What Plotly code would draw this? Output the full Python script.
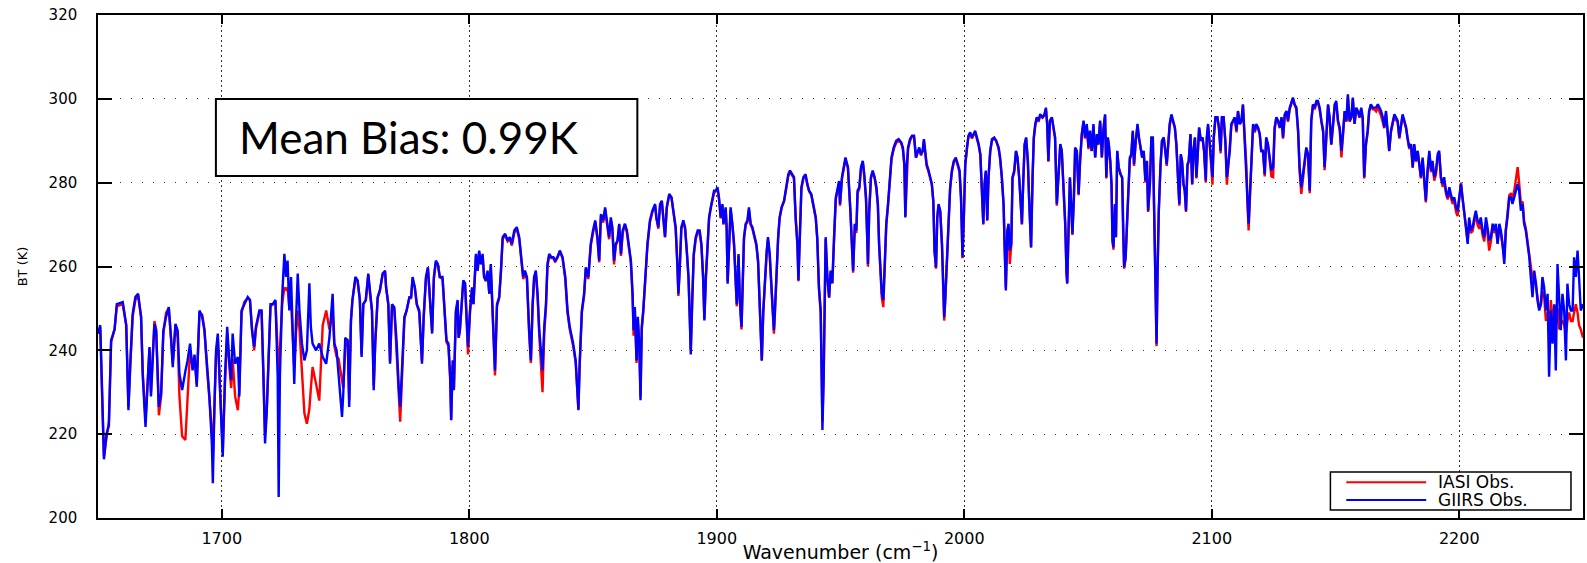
import plotly.graph_objects as go

# ---------------- data (wavenumber cm-1, BT K) ----------------
giirs_1650_1738 = [
    (1650.0,244.0),(1650.9,246.0),(1651.7,229.7),(1652.4,214.0),(1653.4,220.0),(1654.4,222.0),(1655.3,242.4),(1656.7,245.0),
    (1657.6,251.0),(1660.0,251.5),(1661.4,246.0),(1662.3,225.7),(1663.1,237.6),(1664.0,248.7),(1665.1,252.7),(1666.2,253.5),
    (1667.4,248.0),(1668.1,233.7),(1669.2,221.7),(1670.1,233.0),(1670.8,240.8),(1671.4,229.0),(1672.1,237.6),(1672.8,246.3),
    (1673.5,244.7),(1674.6,226.5),(1675.5,229.7),(1676.4,244.7),(1677.5,248.0),(1678.6,250.3),(1679.5,243.0),(1680.2,236.0),
    (1681.3,246.3),(1682.2,244.7),(1682.9,234.4),(1684.0,230.5),(1685.3,235.0),(1686.2,237.6),(1687.2,241.6),(1688.2,235.2),
    (1689.0,239.0),(1689.9,231.3),(1691.0,249.5),(1692.1,248.0),(1693.0,244.8),(1694.0,236.8),(1695.0,229.0),(1696.0,217.8),
    (1696.4,208.3),(1697.0,225.7),(1697.7,240.0),(1698.4,244.0),(1699.3,229.7),(1700.4,214.6),(1701.3,233.7),(1702.2,245.6),
    (1703.1,236.8),(1703.8,232.9),(1704.4,244.0),(1705.4,236.8),(1706.5,238.4),(1707.1,229.0),(1708.0,249.5),(1709.1,251.0),
    (1710.5,252.7),(1711.4,252.0),(1712.2,244.8),(1713.1,240.8),(1713.8,245.6),(1715.2,249.5),(1716.1,249.5),(1716.8,235.2),
    (1717.5,217.8),(1718.2,225.7),(1719.0,241.6),(1719.7,251.0),(1720.6,251.0),(1721.7,252.0),(1722.6,233.7),(1723.0,205.0),
    (1723.5,233.7),(1724.4,252.7),(1725.3,263.0),(1726.0,257.5),(1726.6,261.4),(1727.3,249.5),(1728.0,257.5),(1728.7,241.6),
    (1729.3,232.0),(1730.0,247.0),(1730.7,258.3),(1731.4,249.5),(1732.4,241.6),(1733.4,237.6),(1734.4,240.0),(1735.4,256.0),
    (1736.0,245.6),(1736.7,241.6),(1738.1,240.0),
]
giirs_1739_1848 = [
    (1739.4,241.6),(1740.8,238.4),(1742.2,236.8),(1743.5,243.0),(1744.8,253.5),(1745.5,241.6),(1746.4,240.0),(1747.2,233.7),
    (1747.7,231.3),(1748.6,224.1),(1749.1,229.7),(1749.9,243.0),(1750.9,242.4),(1751.5,226.5),(1752.2,247.1),(1752.8,252.0),
    (1754.0,257.5),(1754.9,256.7),(1755.8,252.0),(1756.5,238.4),(1757.2,251.0),(1758.2,252.0),(1759.2,258.3),(1759.8,254.3),
    (1760.7,249.5),(1761.4,230.5),(1762.0,241.6),(1763.0,252.7),(1763.9,254.3),(1765.0,258.3),(1766.0,259.0),(1766.4,255.0),
    (1767.3,251.0),(1768.0,236.8),(1768.8,251.0),(1769.7,250.3),(1770.7,241.6),(1771.5,231.3),(1772.1,226.5),(1772.8,235.2),
    (1773.8,248.0),(1774.7,249.5),(1775.8,252.7),(1776.5,252.7),(1777.1,257.5),(1778.0,255.0),(1778.8,251.0),(1779.8,249.5),
    (1780.5,243.0),(1780.9,236.8),(1781.6,248.0),(1782.5,257.5),(1783.3,259.8),(1784.1,252.0),(1785.0,244.0),(1785.7,257.5),
    (1786.5,261.4),(1787.3,260.6),(1788.1,257.5),(1789.2,257.5),(1790.0,249.5),(1790.8,242.4),(1791.6,241.6),(1792.3,233.7),
    (1792.7,223.3),(1793.3,237.6),(1793.8,230.5),(1794.6,249.5),(1795.3,252.0),(1795.7,243.0),(1796.2,244.8),(1797.0,252.7),
    (1797.6,256.7),(1798.3,256.0),(1798.9,249.5),(1799.5,240.8),(1800.3,249.5),(1801.1,255.0),(1801.7,251.0),(1802.7,263.0),
    (1803.4,259.0),(1804.0,263.8),(1804.7,260.6),(1805.4,263.0),(1806.0,257.5),(1806.7,256.7),(1807.4,259.0),(1808.1,253.5),
    (1808.7,260.6),(1809.4,251.0),(1810.4,235.2),(1811.2,251.0),(1812.1,252.7),(1812.8,259.0),(1813.5,267.0),(1814.5,267.8),
    (1815.5,266.2),(1816.4,267.0),(1817.2,265.4),(1818.2,268.6),(1819.2,269.4),(1820.2,267.0),(1821.1,260.6),(1821.8,257.5),
    (1822.5,259.0),(1823.3,257.5),(1824.2,244.8),(1824.9,237.6),(1825.6,251.0),(1826.2,257.5),(1826.9,259.0),(1827.6,253.5),
    (1828.3,244.8),(1829.0,239.0),(1829.6,235.2),(1830.3,245.6),(1831.0,251.0),(1831.6,260.6),(1832.3,263.0),(1833.2,262.2),
    (1834.0,262.2),(1834.7,261.4),(1835.6,262.2),(1836.6,263.8),(1837.7,262.2),(1838.8,257.5),(1839.7,249.5),(1840.6,245.6),
    (1842.0,241.6),(1843.0,237.6),(1844.1,225.7),(1844.6,236.8),(1845.5,249.5),(1846.4,253.5),(1847.1,259.8),(1848.1,257.5),
]
giirs_1849_1953 = [
    (1849.1,265.4),(1850.0,268.6),(1850.9,271.0),(1851.8,267.0),(1852.5,261.4),(1853.2,272.5),(1854.1,271.0),(1854.9,274.1),
    (1855.8,270.2),(1856.5,267.0),(1857.2,271.7),(1857.8,269.4),(1858.5,261.4),(1859.2,265.4),(1859.9,266.2),(1860.6,270.2),
    (1861.3,263.0),(1862.0,268.6),(1862.9,270.2),(1863.7,268.6),(1864.6,264.6),(1865.3,261.4),(1866.0,253.5),(1866.4,244.8),
    (1866.9,250.3),(1867.6,237.6),(1868.1,248.0),(1868.7,241.6),(1869.2,228.1),(1869.7,245.6),(1870.3,249.5),(1871.1,256.7),
    (1872.0,265.4),(1873.0,271.0),(1874.0,273.3),(1875.1,274.9),(1875.6,271.7),(1876.4,269.4),(1877.1,274.9),(1877.8,275.7),
    (1878.5,270.2),(1879.1,267.0),(1879.8,274.1),(1880.8,277.3),(1881.7,276.5),(1882.5,273.3),(1883.4,269.4),(1884.1,260.6),
    (1884.5,253.5),(1885.0,259.0),(1885.7,269.4),(1886.5,271.0),(1887.2,269.4),(1887.9,263.8),(1888.6,257.5),(1889.1,248.0),
    (1889.5,239.0),(1890.1,252.0),(1890.7,263.0),(1891.5,267.0),(1892.3,268.6),(1893.1,268.6),(1893.8,265.4),(1894.5,257.5),
    (1895.0,247.1),(1895.6,257.5),(1896.2,265.4),(1896.9,271.7),(1897.6,274.1),(1898.3,276.5),(1898.9,278.1),(1899.6,278.1),
    (1900.3,278.9),(1900.9,276.5),(1901.6,271.7),(1902.3,274.9),(1902.7,270.2),(1903.6,274.1),(1904.0,269.4),(1904.4,255.9),
    (1905.0,265.4),(1905.6,274.1),(1906.3,270.2),(1907.0,265.4),(1907.7,256.0),(1908.1,251.0),(1908.8,263.0),(1909.3,252.7),
    (1910.0,245.6),(1910.4,254.3),(1911.0,267.0),(1911.7,270.2),(1912.4,271.0),(1913.0,274.1),(1913.7,270.2),(1914.4,269.4),
    (1915.3,267.0),(1916.0,265.4),(1916.7,261.4),(1917.4,251.0),(1917.9,244.8),(1918.2,237.6),(1918.8,249.5),(1919.5,257.5),
    (1920.2,263.8),(1920.7,267.0),(1921.4,263.0),(1921.9,257.5),(1922.5,249.5),(1923.1,244.8),(1923.4,248.0),(1924.1,259.0),
    (1924.8,267.0),(1925.4,271.7),(1926.2,274.1),(1927.2,275.7),(1928.1,278.9),(1928.9,282.0),(1929.6,282.9),(1930.6,282.0),
    (1931.2,281.3),(1931.9,271.7),(1932.6,265.4),(1933.0,256.7),(1933.5,268.6),(1934.2,278.9),(1935.0,281.3),(1935.9,282.0),
    (1936.6,279.7),(1937.3,278.1),(1938.2,277.3),(1939.0,274.9),(1940.0,271.7),(1940.6,267.0),(1941.3,255.0),(1942.0,249.5),
    (1942.4,236.8),(1942.7,221.0),(1943.2,233.7),(1943.6,257.5),(1944.0,267.0),(1944.7,257.5),(1945.4,252.7),(1946.0,259.0),
    (1946.7,256.0),(1947.4,267.0),(1948.1,276.5),(1948.7,278.1),(1949.4,280.4),(1949.8,274.9),(1950.6,281.3),(1952.0,286.0),
    (1953.0,283.7),
]
giirs_1954_2058 = [
    (1954.0,273.3),(1954.7,261.4),(1955.1,259.0),(1955.8,270.2),(1956.4,268.6),(1956.9,278.1),(1957.6,278.9),(1958.3,283.7),
    (1959.0,285.2),(1959.6,282.0),(1960.3,276.5),(1960.8,267.0),(1961.1,260.6),(1961.6,273.3),(1962.3,281.3),(1963.0,282.9),
    (1963.8,281.3),(1964.5,278.9),(1965.1,274.9),(1965.6,265.4),(1966.2,257.5),(1966.7,253.5),(1967.3,252.0),(1967.8,260.6),
    (1968.5,270.2),(1969.2,274.9),(1969.9,281.3),(1970.6,286.0),(1971.5,288.4),(1972.5,290.0),(1973.5,290.4),(1974.5,289.6),
    (1975.2,288.4),(1975.8,284.4),(1976.2,271.7),(1976.8,284.4),(1977.3,288.4),(1978.1,290.4),(1978.9,291.2),(1979.7,291.2),
    (1980.5,286.0),(1981.2,287.6),(1981.8,288.4),(1982.5,286.8),(1983.2,287.6),(1983.7,290.4),(1984.3,286.0),(1984.8,284.4),
    (1985.6,282.9),(1986.3,281.3),(1986.9,279.7),(1987.5,275.7),(1988.0,263.8),(1988.6,259.8),(1989.1,271.7),(1989.6,274.9),
    (1990.3,273.3),(1991.0,265.4),(1991.5,252.7),(1991.9,247.9),(1992.3,252.0),(1993.0,263.8),(1993.7,271.0),(1994.3,278.9),
    (1995.0,282.9),(1995.8,285.2),(1996.6,286.0),(1997.4,284.4),(1998.1,282.9),(1998.7,276.5),(1999.1,267.0),(1999.3,262.2),
    (1999.9,273.3),(2000.4,284.4),(2001.1,288.4),(2001.7,291.2),(2002.4,292.0),(2003.1,290.8),(2003.8,291.6),(2004.4,292.4),
    (2005.1,290.8),(2005.8,289.2),(2006.5,286.8),(2007.1,277.3),(2007.7,270.2),(2008.2,279.7),(2008.7,282.9),(2009.3,271.0),
    (2009.8,281.3),(2010.5,287.6),(2011.2,290.4),(2012.1,290.8),(2012.9,290.0),(2013.9,288.4),(2014.5,286.0),(2015.2,281.3),
    (2015.9,274.9),(2016.3,265.4),(2016.8,254.3),(2017.4,268.6),(2017.9,270.2),(2018.4,263.8),(2019.0,265.4),(2019.5,281.3),
    (2020.2,282.9),(2020.9,287.6),(2021.5,286.0),(2022.2,281.3),(2022.7,276.5),(2023.3,270.2),(2023.8,279.7),(2024.4,289.2),
    (2025.0,290.8),(2025.7,285.2),(2026.2,276.5),(2026.8,265.4),(2027.0,264.6),(2027.6,281.3),(2028.1,290.8),(2028.7,294.0),
    (2029.3,295.6),(2030.0,294.8),(2030.7,296.3),(2031.6,295.6),(2032.4,296.3),(2033.0,297.9),(2033.5,294.0),(2034.0,285.2),
    (2034.6,294.8),(2035.4,295.6),(2036.1,293.2),(2036.7,290.8),(2037.4,274.9),(2038.1,281.3),(2038.8,289.2),(2039.4,287.6),
    (2040.1,279.7),(2040.8,270.2),(2041.3,259.0),(2041.6,255.9),(2042.2,270.2),(2042.7,281.3),(2043.2,274.9),(2043.7,267.8),
    (2044.3,276.5),(2044.8,288.4),(2045.5,287.6),(2046.2,277.3),(2046.8,285.2),(2047.5,291.6),(2048.2,294.8),(2048.8,290.8),
    (2049.5,294.0),(2050.2,288.4),(2050.8,292.4),(2051.5,287.6),(2052.2,294.0),(2052.9,286.0),(2053.6,291.6),(2054.2,289.2),
    (2054.9,294.8),(2055.6,286.0),(2056.3,293.2),(2056.9,296.3),(2057.4,281.3),(2058.0,290.8),
]
giirs_2058_2163 = [
    (2058.4,289.2),(2059.0,285.2),(2059.5,279.7),(2059.9,266.2),(2060.3,264.6),(2060.9,274.9),(2061.3,267.0),(2061.8,287.6),
    (2062.4,283.7),(2063.1,282.0),(2063.8,281.3),(2064.2,268.6),(2064.6,259.8),(2065.2,262.2),(2065.7,271.0),(2066.2,276.5),
    (2066.9,286.0),(2067.5,286.8),(2068.1,292.4),(2068.6,284.4),(2069.3,290.0),(2070.0,294.0),(2070.6,290.8),(2071.2,288.4),
    (2071.9,286.0),(2072.5,287.6),(2073.2,280.5),(2073.8,285.2),(2074.3,273.3),(2075.0,279.7),(2075.6,290.8),(2076.2,290.8),
    (2076.6,276.5),(2077.0,261.4),(2077.3,246.3),(2077.7,241.6),(2078.1,259.0),(2078.6,273.3),(2079.3,284.4),(2079.9,290.0),
    (2080.6,290.8),(2081.3,287.6),(2081.8,284.4),(2082.4,289.2),(2083.0,294.0),(2083.7,296.3),(2084.4,294.8),(2085.1,293.2),
    (2085.7,289.2),(2086.4,282.0),(2086.9,274.9),(2087.5,286.8),(2088.0,285.2),(2088.6,279.7),(2089.1,278.1),(2089.6,273.3),
    (2090.2,284.4),(2090.7,285.2),(2091.4,291.6),(2092.1,279.7),(2092.6,287.6),(2093.2,290.8),(2093.8,281.3),(2094.4,287.6),
    (2094.9,293.2),(2095.6,290.0),(2096.3,290.8),(2096.9,287.6),(2097.6,280.5),(2098.0,290.8),(2098.5,294.0),(2099.2,289.2),
    (2099.9,282.9),(2100.3,281.3),(2100.8,290.8),(2101.5,295.6),(2102.3,295.6),(2102.9,293.2),(2103.6,287.6),(2104.1,295.6),
    (2104.8,295.6),(2105.5,290.0),(2106.1,281.3),(2106.6,283.7),(2107.3,287.6),(2107.9,294.0),(2108.6,294.8),(2109.3,295.6),
    (2110.0,292.4),(2110.6,297.1),(2111.3,294.0),(2112.0,294.8),(2112.6,298.7),(2113.3,290.8),(2114.0,284.4),(2114.4,276.5),
    (2114.9,270.2),(2115.5,278.1),(2116.0,284.4),(2116.7,294.0),(2117.4,292.4),(2118.0,294.0),(2118.7,293.2),(2119.4,291.6),
    (2120.0,287.6),(2120.7,287.6),(2121.4,282.0),(2122.0,290.8),(2122.7,289.2),(2123.4,286.0),(2124.1,282.9),(2124.8,283.7),
    (2125.4,293.2),(2126.1,295.6),(2126.8,294.8),(2127.5,293.2),(2128.2,295.6),(2128.8,290.8),(2129.5,296.3),(2130.2,297.1),
    (2130.8,294.8),(2131.5,297.9),(2132.2,299.5),(2132.8,300.3),(2133.5,298.7),(2134.2,297.9),(2134.9,292.4),(2135.5,283.7),
    (2136.2,278.9),(2136.9,282.0),(2137.6,284.4),(2138.2,288.4),(2138.9,286.8),(2139.6,278.1),(2140.2,294.8),(2140.9,298.7),
    (2141.6,297.9),(2142.3,299.5),(2142.9,299.5),(2143.6,297.9),(2144.3,294.8),(2145.0,292.4),(2145.6,283.7),(2146.3,292.4),
    (2147.0,298.7),(2147.6,295.6),(2148.3,289.2),(2149.0,294.0),(2149.7,298.7),(2150.3,299.5),(2151.0,294.8),(2151.7,293.2),
    (2152.4,287.6),(2153.0,291.6),(2153.7,297.1),(2154.4,294.8),(2155.0,301.1),(2155.7,294.8),(2156.4,295.6),(2157.0,300.3),
    (2157.7,294.0),(2158.4,297.9),(2159.0,297.1),(2159.7,295.6),(2160.4,297.9),(2161.0,295.6),(2161.6,281.3),(2162.3,289.2),
    (2163.0,292.4),
]
giirs_2163_2250 = [
    (2163.6,297.1),(2164.3,298.7),(2165.0,297.9),(2165.7,297.9),(2166.4,297.9),(2167.1,298.7),(2167.7,297.9),(2168.4,297.1),
    (2169.1,295.6),(2169.7,293.2),(2170.4,297.1),(2171.1,290.8),(2171.7,287.6),(2172.4,292.4),(2173.1,294.8),(2173.8,296.3),
    (2174.4,295.6),(2175.1,294.8),(2175.8,290.8),(2176.4,293.2),(2177.1,296.3),(2177.8,294.8),(2178.5,293.2),(2179.1,290.8),
    (2179.8,288.4),(2180.5,289.2),(2181.2,283.7),(2181.8,289.2),(2182.5,285.2),(2183.2,287.6),(2183.9,283.7),(2184.5,281.3),
    (2185.2,286.0),(2185.9,281.3),(2186.5,275.7),(2187.2,282.9),(2187.9,287.6),(2188.6,282.9),(2189.2,285.2),(2189.9,281.3),
    (2190.6,282.9),(2191.3,286.8),(2191.9,287.6),(2192.6,281.3),(2193.3,279.7),(2193.9,281.3),(2194.6,278.1),(2195.3,276.5),
    (2196.0,278.9),(2196.6,277.3),(2197.3,275.7),(2198.0,276.5),(2198.7,274.1),(2199.3,273.3),(2200.0,276.5),(2200.7,279.7),
    (2201.3,276.5),(2202.0,273.3),(2202.7,269.4),(2203.4,265.4),(2204.0,271.7),(2204.7,268.6),(2205.4,269.4),(2206.1,271.7),
    (2206.7,273.3),(2207.4,271.0),(2208.1,270.2),(2208.7,271.7),(2209.4,268.6),(2210.1,267.0),(2210.8,271.7),(2211.4,269.4),
    (2212.1,266.2),(2212.8,267.0),(2213.5,270.2),(2214.1,268.6),(2214.8,270.2),(2215.5,265.4),(2216.2,270.2),(2216.8,268.6),
    (2217.5,265.4),(2218.2,260.6),(2218.8,268.6),(2219.5,271.7),(2220.2,276.5),(2220.9,276.5),(2221.5,274.9),(2222.2,276.5),
    (2222.9,278.1),(2223.6,279.7),(2224.2,278.1),(2224.9,273.3),(2225.6,274.9),(2226.2,270.2),(2226.9,268.6),(2227.6,265.4),
    (2228.3,262.2),(2228.9,257.5),(2229.6,252.7),(2230.3,259.0),(2231.0,256.0),(2231.6,252.0),(2232.3,249.5),(2233.0,251.0),
    (2233.6,257.5),(2234.3,255.0),(2235.0,249.5),(2235.7,253.5),(2236.3,233.7),(2237.0,249.5),(2237.7,241.6),(2238.4,251.0),
    (2239.0,235.2),(2239.7,260.6),(2240.4,251.0),(2241.0,244.8),(2241.7,253.5),(2242.4,249.5),(2243.1,237.6),(2243.7,255.9),
    (2244.4,251.0),(2245.1,249.5),(2245.8,249.5),(2246.4,262.2),(2247.1,257.5),(2247.8,263.8),(2248.4,257.5),(2249.1,249.5),
    (2250.0,251.0),
]

iasi_1650_1738 = [
    (1650.0,244.0),(1650.9,245.5),(1651.7,228.0),(1652.4,214.6),(1653.4,219.0),(1654.4,223.0),(1655.3,242.0),(1656.7,245.0),
    (1657.6,250.5),(1660.0,251.0),(1661.4,246.0),(1662.3,226.5),(1663.1,237.0),(1664.0,248.0),(1665.1,252.0),(1666.2,253.0),
    (1667.4,248.0),(1668.1,234.5),(1669.2,223.5),(1670.1,233.0),(1670.8,240.5),(1671.4,230.0),(1672.1,238.0),(1672.8,247.0),
    (1673.5,245.0),(1674.6,224.5),(1675.5,229.0),(1676.4,244.0),(1677.5,249.0),(1678.6,250.0),(1679.5,243.0),(1680.2,237.0),
    (1681.3,246.0),(1682.2,243.0),(1682.9,229.0),(1684.0,219.5),(1685.3,218.6),(1686.2,228.0),(1687.2,240.0),(1688.2,236.0),
    (1689.0,238.5),(1689.9,232.0),(1691.0,249.0),(1692.1,248.5),(1693.0,245.0),(1694.0,236.0),(1695.0,228.0),(1696.0,221.0),
    (1696.4,214.0),(1697.0,224.0),(1697.7,239.0),(1698.4,243.0),(1699.3,230.0),(1700.4,216.0),(1701.3,232.0),(1702.2,244.0),
    (1703.1,236.0),(1703.8,231.0),(1704.4,238.0),(1705.4,229.0),(1706.5,225.7),(1707.1,231.0),(1708.0,249.0),(1709.1,251.5),
    (1710.5,252.5),(1711.4,252.0),(1712.2,245.5),(1713.1,240.0),(1713.8,245.0),(1715.2,249.0),(1716.1,249.0),(1716.8,236.0),
    (1717.5,220.0),(1718.2,226.0),(1719.0,241.0),(1719.7,250.5),(1720.6,251.0),(1721.7,251.5),(1722.6,240.0),(1723.0,231.0),
    (1723.5,240.0),(1724.4,251.0),(1725.3,255.0),(1726.0,254.5),(1726.6,255.0),(1727.3,250.0),(1728.0,251.5),(1728.7,243.0),
    (1729.3,236.0),(1730.0,244.0),(1730.7,249.5),(1731.4,245.0),(1732.4,234.0),(1733.4,225.0),(1734.4,222.5),(1735.4,226.0),
    (1736.0,231.0),(1736.7,236.0),(1738.1,232.0),
]
iasi_1739_1848 = [
    (1739.4,228.0),(1740.8,246.0),(1742.2,249.5),(1743.5,245.0),(1744.8,249.0),(1745.5,241.0),(1746.4,238.5),(1747.2,238.0),
    (1747.7,236.0),(1748.6,233.0),(1749.1,231.0),(1749.9,241.0),(1750.9,242.0),(1751.5,228.0),(1752.2,247.0),(1752.8,252.0),
    (1754.0,257.0),(1754.9,256.5),(1755.8,252.0),(1756.5,239.0),(1757.2,251.0),(1758.2,252.0),(1759.2,258.0),(1759.8,254.0),
    (1760.7,249.5),(1761.4,231.5),(1762.0,241.6),(1763.0,252.5),(1763.9,254.3),(1765.0,258.0),(1766.0,258.5),(1766.4,255.0),
    (1767.3,251.0),(1768.0,237.5),(1768.8,250.5),(1769.7,250.0),(1770.7,240.0),(1771.5,229.0),(1772.1,223.0),(1772.8,233.0),
    (1773.8,247.5),(1774.7,249.5),(1775.8,252.5),(1776.5,252.5),(1777.1,257.0),(1778.0,255.0),(1778.8,251.0),(1779.8,249.0),
    (1780.5,243.0),(1780.9,237.5),(1781.6,248.0),(1782.5,257.0),(1783.3,259.5),(1784.1,252.0),(1785.0,244.5),(1785.7,257.0),
    (1786.5,261.0),(1787.3,260.5),(1788.1,257.5),(1789.2,257.0),(1790.0,249.5),(1790.8,242.0),(1791.6,241.0),(1792.3,233.0),
    (1792.7,223.5),(1793.3,236.5),(1793.8,231.0),(1794.6,249.0),(1795.3,251.5),(1795.7,243.0),(1796.2,244.5),(1797.0,252.5),
    (1797.6,256.5),(1798.3,256.0),(1798.9,249.0),(1799.5,239.0),(1800.3,249.0),(1801.1,254.5),(1801.7,251.0),(1802.7,262.5),
    (1803.4,259.0),(1804.0,263.5),(1804.7,260.5),(1805.4,262.5),(1806.0,257.5),(1806.7,256.5),(1807.4,258.5),(1808.1,253.5),
    (1808.7,260.0),(1809.4,250.5),(1810.4,234.0),(1811.2,250.5),(1812.1,252.5),(1812.8,258.5),(1813.5,266.5),(1814.5,267.5),
    (1815.5,266.0),(1816.4,266.5),(1817.2,265.0),(1818.2,268.0),(1819.2,269.0),(1820.2,266.5),(1821.1,260.0),(1821.8,257.0),
    (1822.5,258.5),(1823.3,257.0),(1824.2,244.0),(1824.9,237.0),(1825.6,250.5),(1826.2,257.0),(1826.9,258.5),(1827.6,253.0),
    (1828.3,243.5),(1829.0,236.0),(1829.6,230.0),(1830.3,244.0),(1831.0,250.5),(1831.6,260.0),(1832.3,262.5),(1833.2,262.0),
    (1834.0,262.0),(1834.7,261.0),(1835.6,262.0),(1836.6,263.5),(1837.7,262.0),(1838.8,257.0),(1839.7,249.0),(1840.6,245.0),
    (1842.0,241.0),(1843.0,237.0),(1844.1,226.0),(1844.6,236.0),(1845.5,249.0),(1846.4,253.0),(1847.1,259.5),(1848.1,257.0),
]
iasi_1849_1953 = [
    (1849.1,265.0),(1850.0,268.0),(1850.9,270.5),(1851.8,266.5),(1852.5,261.0),(1853.2,272.0),(1854.1,270.5),(1854.9,273.5),
    (1855.8,270.0),(1856.5,266.5),(1857.2,271.0),(1857.8,269.0),(1858.5,260.5),(1859.2,265.0),(1859.9,266.0),(1860.6,270.0),
    (1861.3,262.5),(1862.0,268.0),(1862.9,270.0),(1863.7,268.0),(1864.6,264.0),(1865.3,261.0),(1866.0,252.5),(1866.4,243.5),
    (1866.9,249.5),(1867.6,237.0),(1868.1,247.0),(1868.7,241.0),(1869.2,229.0),(1869.7,245.0),(1870.3,249.0),(1871.1,256.0),
    (1872.0,265.0),(1873.0,270.5),(1874.0,273.0),(1875.1,274.5),(1875.6,271.5),(1876.4,269.0),(1877.1,274.5),(1877.8,275.5),
    (1878.5,270.0),(1879.1,267.0),(1879.8,274.0),(1880.8,277.0),(1881.7,276.5),(1882.5,273.0),(1883.4,269.0),(1884.1,260.0),
    (1884.5,253.0),(1885.0,259.0),(1885.7,269.0),(1886.5,270.5),(1887.2,269.0),(1887.9,263.5),(1888.6,257.0),(1889.1,247.5),
    (1889.5,240.0),(1890.1,252.0),(1890.7,262.5),(1891.5,266.5),(1892.3,268.0),(1893.1,268.0),(1893.8,265.0),(1894.5,257.0),
    (1895.0,247.5),(1895.6,257.0),(1896.2,265.0),(1896.9,271.5),(1897.6,274.0),(1898.3,276.0),(1898.9,277.5),(1899.6,278.0),
    (1900.3,278.5),(1900.9,276.0),(1901.6,271.5),(1902.3,274.5),(1902.7,270.0),(1903.6,273.5),(1904.0,269.0),(1904.4,256.5),
    (1905.0,265.0),(1905.6,273.5),(1906.3,270.0),(1907.0,265.0),(1907.7,255.5),(1908.1,250.5),(1908.8,262.5),(1909.3,252.0),
    (1910.0,245.0),(1910.4,254.0),(1911.0,266.5),(1911.7,270.0),(1912.4,270.5),(1913.0,273.5),(1913.7,270.0),(1914.4,269.0),
    (1915.3,266.5),(1916.0,265.0),(1916.7,261.0),(1917.4,250.5),(1917.9,244.0),(1918.2,237.5),(1918.8,249.0),(1919.5,257.0),
    (1920.2,263.5),(1920.7,266.5),(1921.4,262.5),(1921.9,257.0),(1922.5,248.5),(1923.1,244.0),(1923.4,247.5),(1924.1,258.5),
    (1924.8,266.5),(1925.4,271.5),(1926.2,274.0),(1927.2,275.5),(1928.1,278.5),(1928.9,281.5),(1929.6,282.5),(1930.6,281.5),
    (1931.2,281.0),(1931.9,271.0),(1932.6,265.0),(1933.0,256.5),(1933.5,268.0),(1934.2,278.5),(1935.0,281.0),(1935.9,281.5),
    (1936.6,279.5),(1937.3,278.0),(1938.2,277.0),(1939.0,274.5),(1940.0,271.5),(1940.6,266.5),(1941.3,254.5),(1942.0,249.0),
    (1942.4,237.5),(1942.7,223.0),(1943.2,234.0),(1943.6,257.0),(1944.0,266.5),(1944.7,257.0),(1945.4,252.5),(1946.0,258.5),
    (1946.7,256.0),(1947.4,266.5),(1948.1,276.0),(1948.7,278.0),(1949.4,280.0),(1949.8,274.5),(1950.6,281.0),(1952.0,285.5),
    (1953.0,283.5),
]
iasi_1954_2058 = [
    (1954.0,273.0),(1954.7,261.0),(1955.1,258.5),(1955.8,270.0),(1956.4,268.0),(1956.9,277.5),(1957.6,278.5),(1958.3,283.5),
    (1959.0,285.0),(1959.6,281.5),(1960.3,276.0),(1960.8,266.5),(1961.1,260.0),(1961.6,273.0),(1962.3,281.0),(1963.0,282.5),
    (1963.8,281.0),(1964.5,278.5),(1965.1,274.5),(1965.6,265.0),(1966.2,257.0),(1966.7,252.5),(1967.3,250.3),(1967.8,260.0),
    (1968.5,270.0),(1969.2,274.5),(1969.9,281.0),(1970.6,285.5),(1971.5,288.0),(1972.5,289.5),(1973.5,290.0),(1974.5,289.5),
    (1975.2,288.0),(1975.8,284.0),(1976.2,272.0),(1976.8,284.0),(1977.3,288.0),(1978.1,290.0),(1978.9,291.0),(1979.7,291.0),
    (1980.5,286.0),(1981.2,287.5),(1981.8,288.0),(1982.5,286.5),(1983.2,287.5),(1983.7,290.0),(1984.3,286.0),(1984.8,284.0),
    (1985.6,282.5),(1986.3,281.0),(1986.9,279.5),(1987.5,275.5),(1988.0,263.5),(1988.6,259.5),(1989.1,271.5),(1989.6,274.5),
    (1990.3,273.0),(1991.0,265.0),(1991.5,252.0),(1991.9,247.1),(1992.3,251.5),(1993.0,263.5),(1993.7,270.5),(1994.3,278.5),
    (1995.0,282.5),(1995.8,285.0),(1996.6,285.5),(1997.4,284.0),(1998.1,282.5),(1998.7,276.0),(1999.1,267.0),(1999.3,262.0),
    (1999.9,273.0),(2000.4,284.0),(2001.1,288.0),(2001.7,291.0),(2002.4,291.5),(2003.1,290.5),(2003.8,291.5),(2004.4,292.0),
    (2005.1,290.5),(2005.8,289.0),(2006.5,286.5),(2007.1,277.0),(2007.7,270.0),(2008.2,279.5),(2008.7,282.5),(2009.3,271.0),
    (2009.8,281.0),(2010.5,287.5),(2011.2,290.0),(2012.1,290.5),(2012.9,290.0),(2013.9,288.0),(2014.5,285.5),(2015.2,281.0),
    (2015.9,274.5),(2016.3,265.0),(2016.8,255.0),(2017.4,268.0),(2017.9,269.5),(2018.4,260.6),(2019.0,265.0),(2019.5,281.0),
    (2020.2,282.5),(2020.9,287.5),(2021.5,286.0),(2022.2,281.0),(2022.7,276.0),(2023.3,270.0),(2023.8,279.5),(2024.4,289.0),
    (2025.0,290.5),(2025.7,285.0),(2026.2,276.0),(2026.8,265.0),(2027.0,264.5),(2027.6,281.0),(2028.1,290.5),(2028.7,293.5),
    (2029.3,295.5),(2030.0,294.5),(2030.7,296.0),(2031.6,295.5),(2032.4,296.0),(2033.0,297.5),(2033.5,294.0),(2034.0,285.0),
    (2034.6,294.5),(2035.4,295.5),(2036.1,293.0),(2036.7,290.5),(2037.4,274.5),(2038.1,281.0),(2038.8,289.0),(2039.4,287.5),
    (2040.1,279.5),(2040.8,270.0),(2041.3,258.5),(2041.6,256.0),(2042.2,270.0),(2042.7,281.0),(2043.2,274.5),(2043.7,267.5),
    (2044.3,276.0),(2044.8,288.0),(2045.5,287.5),(2046.2,277.0),(2046.8,285.0),(2047.5,291.5),(2048.2,294.5),(2048.8,290.5),
    (2049.5,293.5),(2050.2,288.0),(2050.8,292.0),(2051.5,287.5),(2052.2,293.5),(2052.9,286.0),(2053.6,291.5),(2054.2,289.0),
    (2054.9,294.5),(2055.6,286.0),(2056.3,293.0),(2056.9,296.0),(2057.4,281.0),(2058.0,290.5),
]
iasi_2058_2163 = [
    (2058.4,289.0),(2059.0,285.0),(2059.5,279.5),(2059.9,266.0),(2060.3,264.0),(2060.9,274.5),(2061.3,267.0),(2061.8,287.5),
    (2062.4,283.5),(2063.1,282.0),(2063.8,281.0),(2064.2,268.0),(2064.6,259.5),(2065.2,262.0),(2065.7,271.0),(2066.2,276.0),
    (2066.9,285.5),(2067.5,286.5),(2068.1,292.0),(2068.6,284.0),(2069.3,290.0),(2070.0,293.5),(2070.6,290.5),(2071.2,288.0),
    (2071.9,286.0),(2072.5,287.5),(2073.2,280.0),(2073.8,285.0),(2074.3,273.0),(2075.0,279.5),(2075.6,290.5),(2076.2,290.5),
    (2076.6,276.0),(2077.0,260.5),(2077.3,245.0),(2077.7,241.0),(2078.1,258.0),(2078.6,273.0),(2079.3,284.0),(2079.9,290.0),
    (2080.6,290.5),(2081.3,287.5),(2081.8,284.0),(2082.4,289.0),(2083.0,293.5),(2083.7,296.0),(2084.4,294.5),(2085.1,293.0),
    (2085.7,289.0),(2086.4,281.5),(2086.9,274.5),(2087.5,286.5),(2088.0,285.0),(2088.6,279.5),(2089.1,278.0),(2089.6,273.0),
    (2090.2,284.0),(2090.7,285.0),(2091.4,291.5),(2092.1,279.5),(2092.6,287.5),(2093.2,290.5),(2093.8,281.0),(2094.4,287.5),
    (2094.9,293.0),(2095.6,290.0),(2096.3,290.5),(2096.9,287.5),(2097.6,280.0),(2098.0,290.5),(2098.5,293.5),(2099.2,289.0),
    (2099.9,281.5),(2100.3,279.5),(2100.8,290.5),(2101.5,295.5),(2102.3,295.5),(2102.9,293.0),(2103.6,287.0),(2104.1,295.5),
    (2104.8,295.5),(2105.5,289.5),(2106.1,279.5),(2106.6,283.0),(2107.3,287.5),(2107.9,293.5),(2108.6,294.5),(2109.3,295.5),
    (2110.0,292.0),(2110.6,297.0),(2111.3,294.0),(2112.0,294.5),(2112.6,298.5),(2113.3,290.5),(2114.0,284.0),(2114.4,275.5),
    (2114.9,268.6),(2115.5,277.5),(2116.0,284.0),(2116.7,293.5),(2117.4,292.0),(2118.0,293.5),(2118.7,293.0),(2119.4,291.5),
    (2120.0,287.5),(2120.7,287.5),(2121.4,281.5),(2122.0,290.5),(2122.7,289.0),(2123.4,285.5),(2124.1,281.5),(2124.8,281.3),
    (2125.4,292.5),(2126.1,295.5),(2126.8,294.5),(2127.5,293.0),(2128.2,295.5),(2128.8,290.5),(2129.5,296.0),(2130.2,297.0),
    (2130.8,294.5),(2131.5,297.5),(2132.2,299.0),(2132.8,300.0),(2133.5,298.5),(2134.2,297.5),(2134.9,292.0),(2135.5,282.5),
    (2136.2,277.3),(2136.9,281.5),(2137.6,284.0),(2138.2,288.0),(2138.9,286.5),(2139.6,277.5),(2140.2,294.5),(2140.9,298.5),
    (2141.6,297.5),(2142.3,299.0),(2142.9,299.0),(2143.6,297.5),(2144.3,294.5),(2145.0,292.0),(2145.6,283.0),(2146.3,292.0),
    (2147.0,298.5),(2147.6,295.5),(2148.3,289.0),(2149.0,293.5),(2149.7,298.5),(2150.3,299.0),(2151.0,294.5),(2151.7,292.5),
    (2152.4,286.0),(2153.0,291.0),(2153.7,297.0),(2154.4,294.5),(2155.0,300.5),(2155.7,294.5),(2156.4,295.5),(2157.0,300.0),
    (2157.7,294.0),(2158.4,297.5),(2159.0,297.0),(2159.7,295.5),(2160.4,297.5),(2161.0,295.0),(2161.6,281.0),(2162.3,289.0),
    (2163.0,292.0),
]
iasi_2163_2250 = [
    (2163.6,297.0),(2164.3,298.5),(2165.0,297.5),(2165.7,297.5),(2166.4,297.0),(2167.1,298.0),(2167.7,297.0),(2168.4,296.0),
    (2169.1,294.5),(2169.7,293.0),(2170.4,296.5),(2171.1,290.5),(2171.7,287.5),(2172.4,292.0),(2173.1,294.5),(2173.8,296.0),
    (2174.4,295.0),(2175.1,294.5),(2175.8,290.5),(2176.4,293.0),(2177.1,296.0),(2177.8,294.5),(2178.5,293.0),(2179.1,290.5),
    (2179.8,288.0),(2180.5,289.0),(2181.2,283.5),(2181.8,289.0),(2182.5,285.0),(2183.2,287.5),(2183.9,283.5),(2184.5,281.0),
    (2185.2,285.5),(2185.9,280.5),(2186.5,275.3),(2187.2,282.5),(2187.9,287.0),(2188.6,282.5),(2189.2,284.5),(2189.9,280.5),
    (2190.6,282.0),(2191.3,286.0),(2191.9,287.0),(2192.6,281.0),(2193.3,279.0),(2193.9,280.5),(2194.6,277.5),(2195.3,276.0),
    (2196.0,278.0),(2196.6,276.5),(2197.3,275.0),(2198.0,275.5),(2198.7,273.0),(2199.3,272.0),(2200.0,275.5),(2200.7,280.0),
    (2201.3,276.5),(2202.0,273.0),(2202.7,269.0),(2203.4,266.0),(2204.0,271.0),(2204.7,268.0),(2205.4,268.5),(2206.1,270.5),
    (2206.7,272.5),(2207.4,270.0),(2208.1,269.0),(2208.7,270.5),(2209.4,267.5),(2210.1,266.0),(2210.8,270.5),(2211.4,268.0),
    (2212.1,263.8),(2212.8,266.0),(2213.5,269.5),(2214.1,268.0),(2214.8,269.5),(2215.5,265.5),(2216.2,269.5),(2216.8,268.0),
    (2217.5,265.5),(2218.2,262.0),(2218.8,268.5),(2219.5,272.5),(2220.2,277.0),(2220.9,277.5),(2221.5,276.0),(2222.2,278.0),
    (2222.9,280.5),(2223.6,283.7),(2224.2,280.0),(2224.9,275.0),(2225.6,275.5),(2226.2,271.0),(2226.9,269.0),(2227.6,265.5),
    (2228.3,262.0),(2228.9,260.0),(2229.6,257.0),(2230.3,258.0),(2231.0,255.0),(2231.6,252.0),(2232.3,250.0),(2233.0,251.0),
    (2233.6,254.0),(2234.3,253.0),(2235.0,247.0),(2235.7,249.0),(2236.3,244.0),(2237.0,252.0),(2237.7,248.0),(2238.4,247.0),
    (2239.0,246.0),(2239.7,250.0),(2240.4,245.0),(2241.0,247.0),(2241.7,247.0),(2242.4,246.0),(2243.1,244.0),(2243.7,247.0),
    (2244.4,249.0),(2245.1,247.0),(2245.8,247.0),(2246.4,249.0),(2247.1,251.0),(2247.8,249.0),(2248.4,246.0),(2249.1,245.0),
    (2250.0,243.0),
]

x_ticks = [1700, 1800, 1900, 2000, 2100, 2200]
y_ticks = [200, 220, 240, 260, 280, 300, 320]
series_names = ["IASI Obs.", "GIIRS Obs."]
bias_text = "Mean Bias: 0.99K"


def unpack(*segments):
    pts = sorted(p for seg in segments for p in seg)
    return [p[0] for p in pts], [p[1] for p in pts]


iasi_x, iasi_y = unpack(iasi_1650_1738, iasi_1739_1848, iasi_1849_1953,
                        iasi_1954_2058, iasi_2058_2163, iasi_2163_2250)
giirs_x, giirs_y = unpack(giirs_1650_1738, giirs_1739_1848, giirs_1849_1953,
                          giirs_1954_2058, giirs_2058_2163, giirs_2163_2250)

fig = go.Figure()
fig.add_trace(go.Scatter(x=iasi_x, y=iasi_y, mode="lines", name=series_names[0],
                         line=dict(color="#ff0000", width=2.4), showlegend=False))
fig.add_trace(go.Scatter(x=giirs_x, y=giirs_y, mode="lines", name=series_names[1],
                         line=dict(color="#0000ff", width=2.4), showlegend=False))

fig.update_layout(
    width=1587, height=563,
    margin=dict(l=98, r=2, t=15, b=45),
    paper_bgcolor="white", plot_bgcolor="white",
    showlegend=False,
    xaxis=dict(
        range=[1650, 2250], tickvals=x_ticks, ticktext=[str(v) for v in x_ticks],
        ticks="inside", ticklen=9, tickwidth=1.5, tickcolor="black",
        showline=True, linecolor="black", linewidth=1.5, mirror="ticks",
        showgrid=True, gridcolor="#333333", gridwidth=1, griddash="2px,3px",
        zeroline=False, tickfont=dict(family="DejaVu Sans", size=16, color="black"),
        ticklabelstandoff=5,
        title=dict(text="Wavenumber (cm<sup>−1</sup>)",
                   font=dict(family="DejaVu Sans", size=19, color="black"), standoff=0),
    ),
    yaxis=dict(
        range=[200, 320], tickvals=y_ticks, ticktext=[str(v) for v in y_ticks],
        ticks="inside", ticklen=14, tickwidth=1.5, tickcolor="black",
        showline=True, linecolor="black", linewidth=1.5, mirror="ticks",
        showgrid=True, gridcolor="#333333", gridwidth=1, griddash="1px,10px",
        zeroline=False, tickfont=dict(family="DejaVu Sans", size=15, color="black"),
        ticklabelstandoff=16,
        title=dict(text="BT (K)", font=dict(family="DejaVu Sans", size=13, color="black"), standoff=18),
    ),
)

# Mean bias text box
fig.add_shape(type="rect", xref="paper", yref="paper", x0=0.0794, x1=0.3632, y0=0.680, y1=0.833,
              line=dict(color="black", width=2), fillcolor="white", layer="above")
fig.add_annotation(xref="paper", yref="paper", x=0.0935, y=0.757, xanchor="left", yanchor="middle",
                   text=bias_text, showarrow=False,
                   font=dict(family="Lato", size=44, color="black"))

# Legend box (drawn to match the reference's legend layout)
fig.add_shape(type="rect", xref="paper", yref="paper", x0=0.8299, x1=0.9919, y0=0.0159, y1=0.0915,
              line=dict(color="black", width=1.5), fillcolor="white", layer="above")
for i, (name, color) in enumerate(zip(series_names, ["#ff0000", "#0000ff"])):
    yy = [0.071, 0.0358][i]
    fig.add_shape(type="line", xref="paper", yref="paper", x0=0.8406, x1=0.8944, y0=yy, y1=yy,
                  line=dict(color=color, width=2), layer="above")
    fig.add_annotation(xref="paper", yref="paper", x=0.9012, y=yy, xanchor="left", yanchor="middle",
                       text=name, showarrow=False,
                       font=dict(family="DejaVu Sans", size=17, color="black"))

fig.write_html("out.html")
